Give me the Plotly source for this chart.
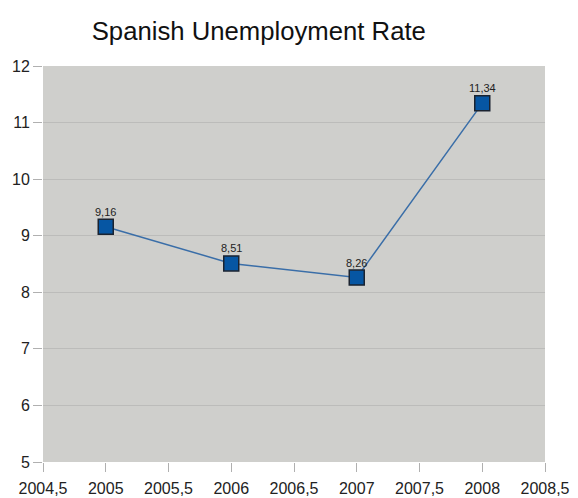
import plotly.graph_objects as go

years = [2005, 2006, 2007, 2008]
rates = [9.16, 8.51, 8.26, 11.34]
rate_labels = ["9,16", "8,51", "8,26", "11,34"]
x_ticks = [2004.5, 2005, 2005.5, 2006, 2006.5, 2007, 2007.5, 2008, 2008.5]
x_tick_text = ["2004,5", "2005", "2005,5", "2006", "2006,5", "2007", "2007,5", "2008", "2008,5"]
y_ticks = [5, 6, 7, 8, 9, 10, 11, 12]

fig = go.Figure()
fig.add_trace(go.Scatter(
    x=years, y=rates, mode="lines+markers",
    line=dict(color="#3a6ea8", width=1.5),
    marker=dict(symbol="square", size=15, color="#0656a3",
                line=dict(color="#1a2330", width=1.5)),
    showlegend=False, cliponaxis=False,
))
for xv, yv, lab in zip(years, rates, rate_labels):
    fig.add_annotation(x=xv, y=yv, text=lab, showarrow=False,
                       xanchor="center", yanchor="bottom", yshift=7,
                       font=dict(family="Liberation Sans, Arial", size=11, color="#222222"))

# page body adds an 8px offset, so the figure is sized to compensate
fig.update_layout(
    width=570, height=490,
    paper_bgcolor="white", plot_bgcolor="#cfcfcc",
    margin=dict(l=35, r=33, t=58, b=36),
    separators=",.",
    title=dict(text="Spanish Unemployment Rate", x=0.44, xanchor="center",
               y=0.953, yanchor="middle",
               font=dict(family="Liberation Sans, Arial", size=25.7, color="#111111")),
    font=dict(family="Liberation Sans, Arial", size=16, color="#222222"),
)
fig.update_xaxes(range=[2004.5, 2008.5], tickvals=x_ticks, ticktext=x_tick_text,
                 showgrid=False, zeroline=False, ticks="outside", ticklen=9,
                 tickcolor="#b0b0b0", showline=False, automargin=False,
                 ticklabelstandoff=3, tickfont=dict(size=16))
fig.update_yaxes(range=[5, 12], tickvals=y_ticks, showgrid=True,
                 gridcolor="#bcbcba", gridwidth=1, zeroline=False,
                 ticks="outside", ticklen=9, tickcolor="#b0b0b0",
                 showline=False, automargin=False, tickfont=dict(size=16))

fig.write_html("out.html")
